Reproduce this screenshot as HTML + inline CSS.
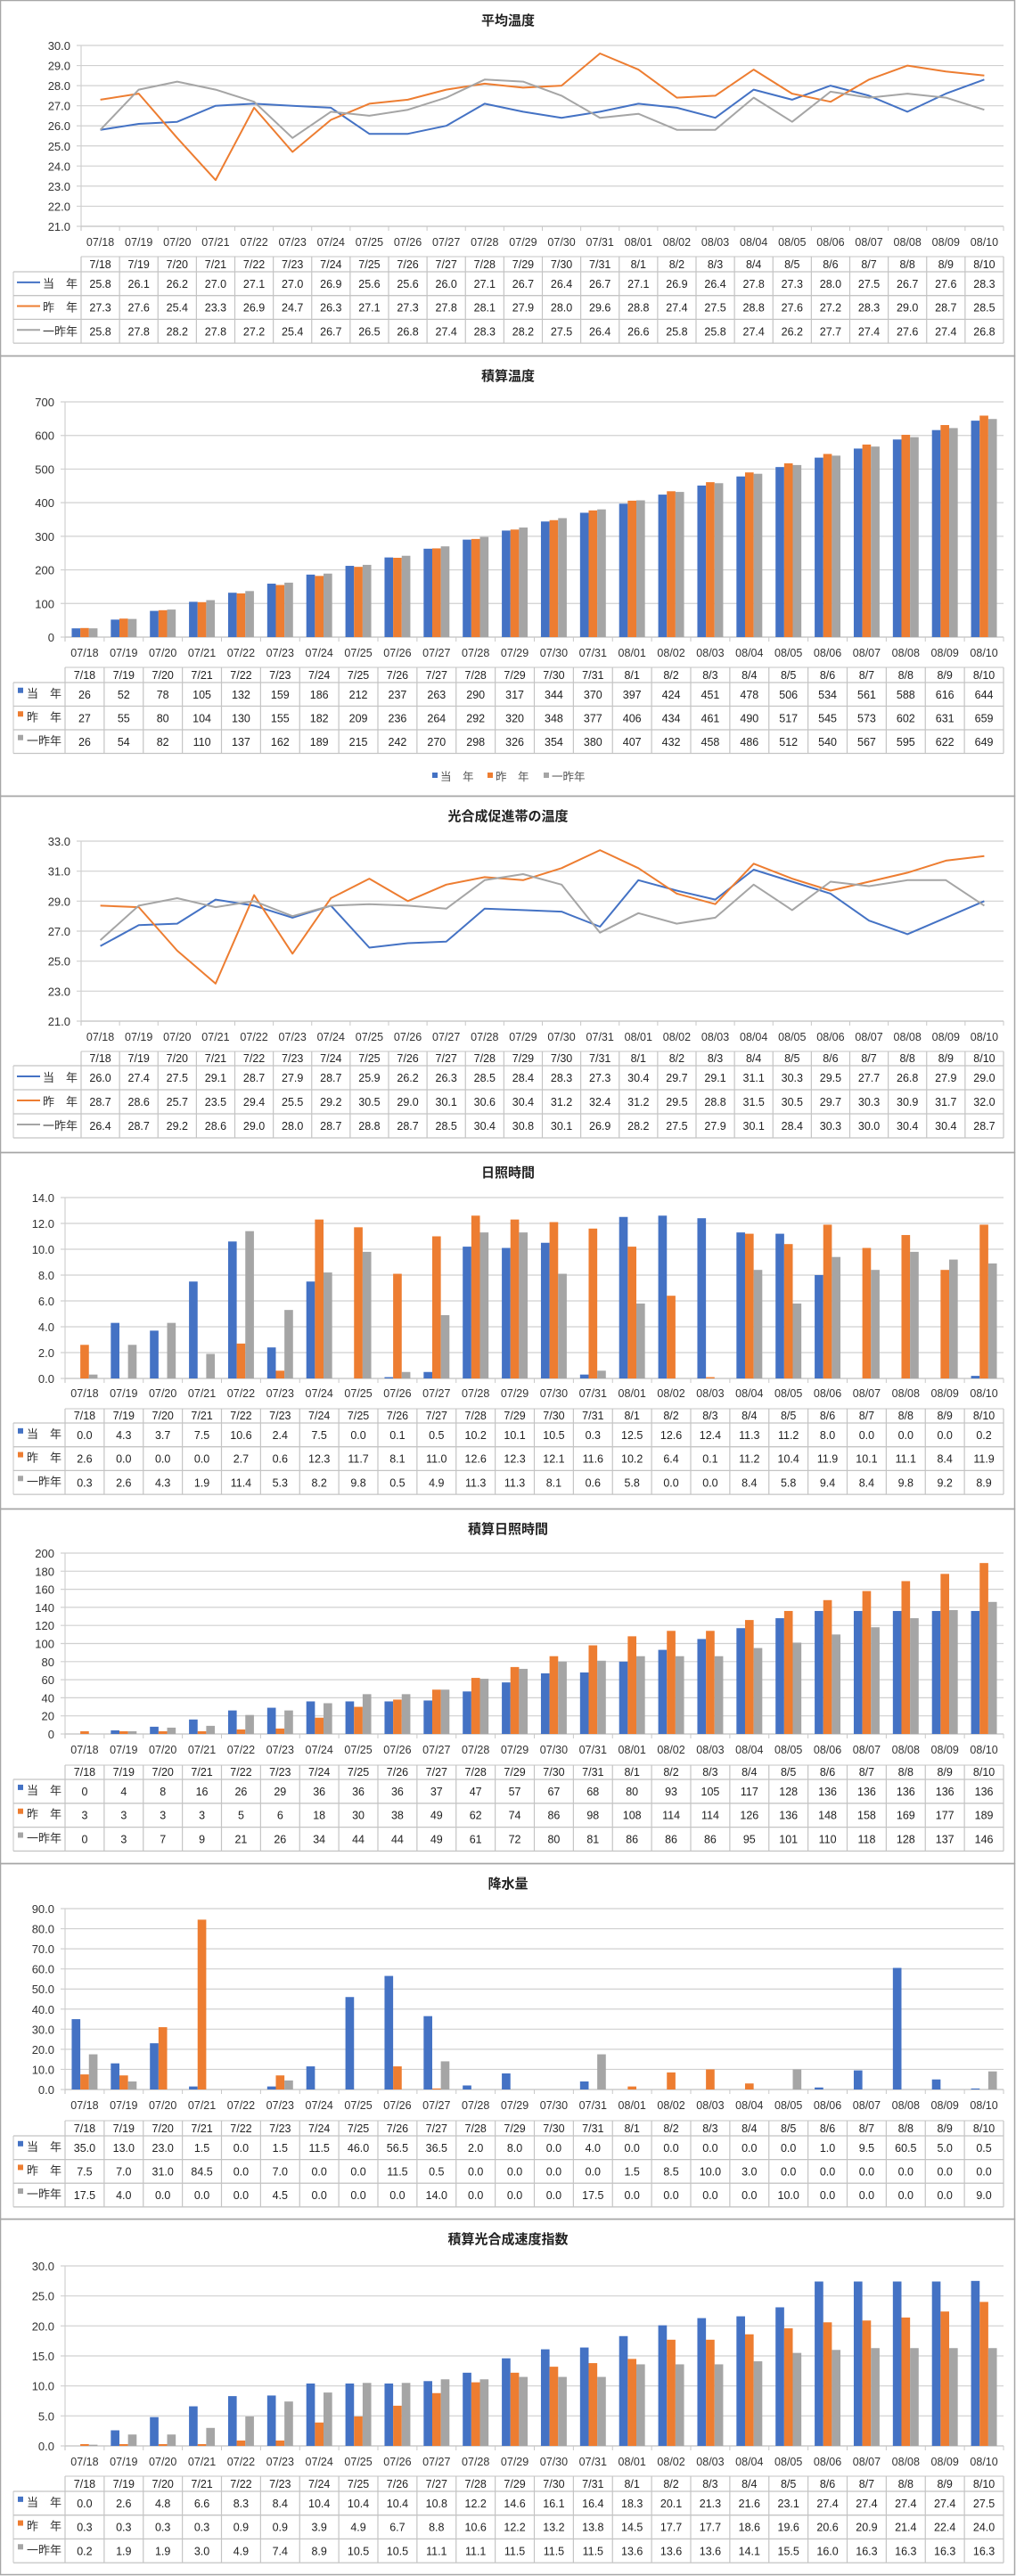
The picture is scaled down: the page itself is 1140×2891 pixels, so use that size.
<!DOCTYPE html>
<html><head><meta charset="utf-8">
<style>
html,body{margin:0;padding:0;background:#fff;}
svg{display:block;font-family:"Liberation Sans","Noto Sans CJK JP",sans-serif;}
</style></head>
<body>
<svg id="page" width="1140" height="2891" viewBox="0 0 1140 2891" xmlns="http://www.w3.org/2000/svg"></svg>
<script>
// Shared categories
const axisDates = ["07/18","07/19","07/20","07/21","07/22","07/23","07/24","07/25","07/26","07/27","07/28","07/29","07/30","07/31","08/01","08/02","08/03","08/04","08/05","08/06","08/07","08/08","08/09","08/10"];
const tableDates = ["7/18","7/19","7/20","7/21","7/22","7/23","7/24","7/25","7/26","7/27","7/28","7/29","7/30","7/31","8/1","8/2","8/3","8/4","8/5","8/6","8/7","8/8","8/9","8/10"];
const seriesNames = ["当　年","昨　年","一昨年"];

// Chart 1: 平均温度
const avgTempCur = [25.8,26.1,26.2,27.0,27.1,27.0,26.9,25.6,25.6,26.0,27.1,26.7,26.4,26.7,27.1,26.9,26.4,27.8,27.3,28.0,27.5,26.7,27.6,28.3];
const avgTempPrev = [27.3,27.6,25.4,23.3,26.9,24.7,26.3,27.1,27.3,27.8,28.1,27.9,28.0,29.6,28.8,27.4,27.5,28.8,27.6,27.2,28.3,29.0,28.7,28.5];
const avgTempPrev2 = [25.8,27.8,28.2,27.8,27.2,25.4,26.7,26.5,26.8,27.4,28.3,28.2,27.5,26.4,26.6,25.8,25.8,27.4,26.2,27.7,27.4,27.6,27.4,26.8];
const avgTempTicks = [21,22,23,24,25,26,27,28,29,30];

// Chart 2: 積算温度
const cumTempCur = [26,52,78,105,132,159,186,212,237,263,290,317,344,370,397,424,451,478,506,534,561,588,616,644];
const cumTempPrev = [27,55,80,104,130,155,182,209,236,264,292,320,348,377,406,434,461,490,517,545,573,602,631,659];
const cumTempPrev2 = [26,54,82,110,137,162,189,215,242,270,298,326,354,380,407,432,458,486,512,540,567,595,622,649];
const cumTempTicks = [0,100,200,300,400,500,600,700];

// Chart 3: 光合成促進帯の温度
const photoTempCur = [26.0,27.4,27.5,29.1,28.7,27.9,28.7,25.9,26.2,26.3,28.5,28.4,28.3,27.3,30.4,29.7,29.1,31.1,30.3,29.5,27.7,26.8,27.9,29.0];
const photoTempPrev = [28.7,28.6,25.7,23.5,29.4,25.5,29.2,30.5,29.0,30.1,30.6,30.4,31.2,32.4,31.2,29.5,28.8,31.5,30.5,29.7,30.3,30.9,31.7,32.0];
const photoTempPrev2 = [26.4,28.7,29.2,28.6,29.0,28.0,28.7,28.8,28.7,28.5,30.4,30.8,30.1,26.9,28.2,27.5,27.9,30.1,28.4,30.3,30.0,30.4,30.4,28.7];
const photoTempTicks = [21,23,25,27,29,31,33];

// Chart 4: 日照時間
const sunCur = [0.0,4.3,3.7,7.5,10.6,2.4,7.5,0.0,0.1,0.5,10.2,10.1,10.5,0.3,12.5,12.6,12.4,11.3,11.2,8.0,0.0,0.0,0.0,0.2];
const sunPrev = [2.6,0.0,0.0,0.0,2.7,0.6,12.3,11.7,8.1,11.0,12.6,12.3,12.1,11.6,10.2,6.4,0.1,11.2,10.4,11.9,10.1,11.1,8.4,11.9];
const sunPrev2 = [0.3,2.6,4.3,1.9,11.4,5.3,8.2,9.8,0.5,4.9,11.3,11.3,8.1,0.6,5.8,0.0,0.0,8.4,5.8,9.4,8.4,9.8,9.2,8.9];
const sunTicks = [0,2,4,6,8,10,12,14];

// Chart 5: 積算日照時間
const cumSunCur = [0,4,8,16,26,29,36,36,36,37,47,57,67,68,80,93,105,117,128,136,136,136,136,136];
const cumSunPrev = [3,3,3,3,5,6,18,30,38,49,62,74,86,98,108,114,114,126,136,148,158,169,177,189];
const cumSunPrev2 = [0,3,7,9,21,26,34,44,44,49,61,72,80,81,86,86,86,95,101,110,118,128,137,146];
const cumSunTicks = [0,20,40,60,80,100,120,140,160,180,200];

// Chart 6: 降水量
const rainCur = [35.0,13.0,23.0,1.5,0.0,1.5,11.5,46.0,56.5,36.5,2.0,8.0,0.0,4.0,0.0,0.0,0.0,0.0,0.0,1.0,9.5,60.5,5.0,0.5];
const rainPrev = [7.5,7.0,31.0,84.5,0.0,7.0,0.0,0.0,11.5,0.5,0.0,0.0,0.0,0.0,1.5,8.5,10.0,3.0,0.0,0.0,0.0,0.0,0.0,0.0];
const rainPrev2 = [17.5,4.0,0.0,0.0,0.0,4.5,0.0,0.0,0.0,14.0,0.0,0.0,0.0,17.5,0.0,0.0,0.0,0.0,10.0,0.0,0.0,0.0,0.0,9.0];
const rainTicks = [0,10,20,30,40,50,60,70,80,90];

// Chart 7: 積算光合成速度指数
const photoIdxCur = [0.0,2.6,4.8,6.6,8.3,8.4,10.4,10.4,10.4,10.8,12.2,14.6,16.1,16.4,18.3,20.1,21.3,21.6,23.1,27.4,27.4,27.4,27.4,27.5];
const photoIdxPrev = [0.3,0.3,0.3,0.3,0.9,0.9,3.9,4.9,6.7,8.8,10.6,12.2,13.2,13.8,14.5,17.7,17.7,18.6,19.6,20.6,20.9,21.4,22.4,24.0];
const photoIdxPrev2 = [0.2,1.9,1.9,3.0,4.9,7.4,8.9,10.5,10.5,11.1,11.1,11.5,11.5,11.5,13.6,13.6,13.6,14.1,15.5,16.0,16.3,16.3,16.3,16.3];
const photoIdxTicks = [0,5,10,15,20,25,30];

const COLORS = ["#4472C4","#ED7D31","#A5A5A5"];
const NS = "http://www.w3.org/2000/svg";
const svg = document.getElementById("page");

function mk(tag, attrs, parent, txt){
  const e = document.createElementNS(NS, tag);
  for (const k in attrs) e.setAttribute(k, attrs[k]);
  if (txt !== undefined) e.textContent = txt;
  (parent || svg).appendChild(e);
  return e;
}

function drawChart(cfg){
  const g = mk("g", {});
  
  
  // panel border
  mk("rect", {x:0.5, y:cfg.top+0.5, width:1138, height:cfg.bottom-cfg.top, fill:"none", stroke:"#a6a6a6", "stroke-width":1.5}, g);
  const title = mk("text", {x:570, y:cfg.top+28, "text-anchor":"middle", "font-size":15, "font-weight":"bold", fill:"#222"}, g, cfg.title);
  
  

  const L = cfg.plotL, R = 1126, n = axisDates.length, cw = (R - L) / n;
  const vmin = cfg.ticks[0], vmax = cfg.ticks[cfg.ticks.length-1];
  const yScale = v => cfg.yBot - (v - vmin) / (vmax - vmin) * (cfg.yBot - cfg.yTop);
  const xCenter = i => L + cw * (i + 0.5);

  // gridlines and y ticks
  const yAxis = mk("g", {}, g);
  
  
  cfg.ticks.forEach(t => {
    const y = yScale(t);
    mk("line", {x1:L-5, x2:R, y1:y, y2:y, stroke:"#d0d0d0", "stroke-width":1.2}, yAxis);
    const lbl = mk("text", {x:L-12, y:y+5, "text-anchor":"end", "font-size":13, fill:"#333"}, yAxis, t.toFixed(cfg.dec));
    
    
  });
  mk("line", {x1:L, x2:L, y1:cfg.yTop, y2:cfg.yBot+5, stroke:"#d0d0d0", "stroke-width":1.2}, yAxis);
  // x axis
  const xAxis = mk("g", {}, g);
  
  
  mk("line", {x1:L, x2:R, y1:cfg.yBot, y2:cfg.yBot, stroke:"#c8c8c8", "stroke-width":1.2}, xAxis);
  for (let i = 0; i <= n; i++) mk("line", {x1:L+cw*i, x2:L+cw*i, y1:cfg.yBot, y2:cfg.yBot+5, stroke:"#c8c8c8"}, xAxis);
  axisDates.forEach((d, i) => {
    const t = mk("text", {x:xCenter(i), y:cfg.catY, "text-anchor":"middle", "font-size":12.5, fill:"#333"}, xAxis, d);
    
    
  });

  // series
  const plot = mk("g", {}, g);
  
  
  if (cfg.type === "line") {
    cfg.series.forEach((s, si) => {
      const pts = s.map((v, i) => xCenter(i).toFixed(1) + "," + yScale(v).toFixed(1)).join(" ");
      const pl = mk("polyline", {points:pts, fill:"none", stroke:COLORS[si], "stroke-width":2, "stroke-linejoin":"round"}, plot);
      
      
    });
  } else {
    const bw = cw * 0.22;
    cfg.series.forEach((s, si) => {
      s.forEach((v, i) => {
        const y = yScale(Math.max(v, vmin));
        const x = xCenter(i) - 1.5*bw + si*bw;
        const r = mk("rect", {x:x, y:y, width:bw, height:Math.max(0, cfg.yBot - y), fill:COLORS[si]}, plot);
        
        
      });
    });
  }

  // data table
  const tb = mk("g", {}, g);
  
  
  const hT = cfg.hdrTop, hB = cfg.hdrBot, rh = cfg.rowH;
  const tBot = hB + rh*3;
  const lc = "#c4c4c4";
  mk("line", {x1:L, x2:R, y1:hT, y2:hT, stroke:lc}, tb);
  for (let r = 0; r <= 3; r++) mk("line", {x1:15, x2:R, y1:hB+rh*r, y2:hB+rh*r, stroke:lc, "stroke-width":1.3}, tb);
  mk("line", {x1:15, x2:15, y1:hB, y2:tBot, stroke:lc}, tb);
  for (let i = 0; i <= n; i++) mk("line", {x1:L+cw*i, x2:L+cw*i, y1:hT, y2:tBot, stroke:lc, "stroke-width":1.2}, tb);
  tableDates.forEach((d, i) => {
    const t = mk("text", {x:xCenter(i), y:hB-4, "text-anchor":"middle", "font-size":12.5, fill:"#222"}, tb, d);
    
    
  });
  cfg.series.forEach((s, si) => {
    const cy = hB + rh*si + rh/2 + 4.5;
    if (cfg.type === "line") {
      mk("line", {x1:19, x2:45, y1:cy-6, y2:cy-6, stroke:COLORS[si], "stroke-width":2}, tb);
      const lab = mk("text", {x:L-4, y:cy, "text-anchor":"end", "font-size":13, fill:"#333"}, tb, seriesNames[si]);
      
      
    } else {
      mk("rect", {x:20, y:cy-12, width:6, height:6, fill:COLORS[si]}, tb);
      const lab = mk("text", {x:L-4, y:cy-1, "text-anchor":"end", "font-size":13, fill:"#333"}, tb, seriesNames[si]);
      
      
    }
    s.forEach((v, i) => {
      const t = mk("text", {x:xCenter(i), y:cy, "text-anchor":"middle", "font-size":12.5, fill:"#222"}, tb, v.toFixed(cfg.dec));
      
      
    });
  });

  if (cfg.legendY) {
    const lg = mk("g", {}, g);
    
    
    const xs = [485, 547, 610];
    seriesNames.forEach((nm, si) => {
      mk("rect", {x:xs[si], y:cfg.legendY-9, width:6, height:6, fill:COLORS[si]}, lg);
      const t = mk("text", {x:xs[si]+9, y:cfg.legendY, "font-size":12.5, fill:"#555"}, lg, nm);
      
      
    });
  }
}

drawChart({id:"avg-temp", title:"平均温度", type:"line", top:0, bottom:399, plotL:91, yTop:51, yBot:254, ticks:avgTempTicks, dec:1, catY:276, hdrTop:288, hdrBot:305, rowH:26.7, series:[avgTempCur, avgTempPrev, avgTempPrev2]});
drawChart({id:"cum-temp", title:"積算温度", type:"bar", top:399, bottom:893, plotL:73, yTop:451, yBot:715, ticks:cumTempTicks, dec:0, catY:737, hdrTop:749, hdrBot:766, rowH:26.5, legendY:876, series:[cumTempCur, cumTempPrev, cumTempPrev2]});
drawChart({id:"photo-temp", title:"光合成促進帯の温度", type:"line", top:893, bottom:1293, plotL:91, yTop:944, yBot:1146, ticks:photoTempTicks, dec:1, catY:1168, hdrTop:1180, hdrBot:1196, rowH:27, series:[photoTempCur, photoTempPrev, photoTempPrev2]});
drawChart({id:"sunshine", title:"日照時間", type:"bar", top:1293, bottom:1693, plotL:73, yTop:1344, yBot:1547, ticks:sunTicks, dec:1, catY:1568, hdrTop:1581, hdrBot:1597, rowH:26.7, series:[sunCur, sunPrev, sunPrev2]});
drawChart({id:"cum-sunshine", title:"積算日照時間", type:"bar", top:1693, bottom:2091, plotL:73, yTop:1743, yBot:1946, ticks:cumSunTicks, dec:0, catY:1968, hdrTop:1981, hdrBot:1997, rowH:26.8, series:[cumSunCur, cumSunPrev, cumSunPrev2]});
drawChart({id:"rainfall", title:"降水量", type:"bar", top:2091, bottom:2490, plotL:73, yTop:2142, yBot:2345, ticks:rainTicks, dec:1, catY:2367, hdrTop:2380, hdrBot:2397, rowH:26.6, series:[rainCur, rainPrev, rainPrev2]});
drawChart({id:"photo-index", title:"積算光合成速度指数", type:"bar", top:2490, bottom:2889, plotL:73, yTop:2543, yBot:2745, ticks:photoIdxTicks, dec:1, catY:2767, hdrTop:2779, hdrBot:2796, rowH:26.7, series:[photoIdxCur, photoIdxPrev, photoIdxPrev2]});
</script>
</body></html>
